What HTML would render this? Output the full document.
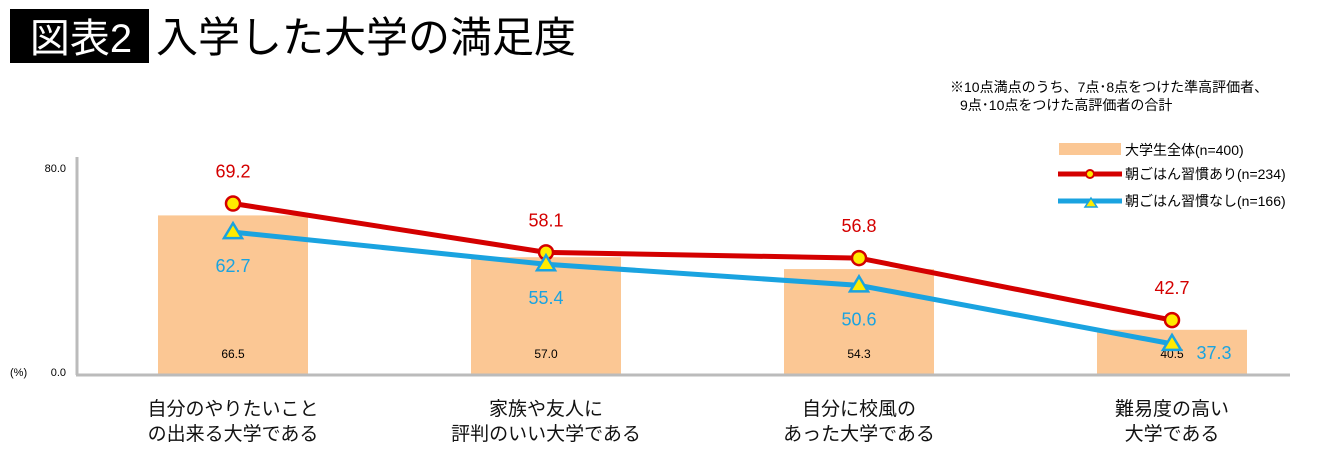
<!DOCTYPE html>
<html><head><meta charset="utf-8">
<style>
body{margin:0;width:1340px;height:450px;background:#fff;overflow:hidden;font-family:"Liberation Sans","Noto Sans CJK JP",sans-serif;}
svg text{font-family:"Liberation Sans","Noto Sans CJK JP",sans-serif;}
</style></head>
<body>
<svg id="chart" width="1340" height="450">
<rect x="10" y="9" width="139" height="54" fill="#000"/>
<text x="81" y="52" font-size="40" fill="#fff" text-anchor="middle">図表2</text>
<text x="156" y="52" font-size="42" fill="#000">入学した大学の満足度</text>
<text x="950" y="92" font-size="14" fill="#000">※10点満点のうち、7点･8点をつけた準高評価者、</text>
<text x="960" y="110" font-size="14" fill="#000">9点･10点をつけた高評価者の合計</text>
<g>
<rect x="1059" y="143" width="62" height="12" fill="#fbc794"/>
<text x="1125" y="155" font-size="14">大学生全体(n=400)</text>
<line x1="1058" y1="174" x2="1122" y2="174" stroke="#d40000" stroke-width="5"/>
<circle cx="1090" cy="174" r="4" fill="#ffeb00" stroke="#d40000" stroke-width="2"/>
<text x="1125" y="179" font-size="14">朝ごはん習慣あり(n=234)</text>
<line x1="1058" y1="201" x2="1122" y2="201" stroke="#1aa3e0" stroke-width="5"/>
<polygon points="1091,198 1097,207 1085,207" fill="#ffeb00" stroke="#1aa3e0" stroke-width="1.5"/>
<text x="1125" y="206" font-size="14">朝ごはん習慣なし(n=166)</text>
</g>
<g id="plot"></g>
<line x1="77" y1="157" x2="77" y2="375" stroke="#bbb" stroke-width="3"/>
<line x1="76" y1="375" x2="1290" y2="375" stroke="#bbb" stroke-width="3"/>
<text x="66" y="172" font-size="11" text-anchor="end">80.0</text>
<text x="66" y="376" font-size="11" text-anchor="end">0.0</text>
<text x="10" y="376" font-size="11">(%)</text>
</svg>
<script>
const categories=[["自分のやりたいこと","の出来る大学である"],["家族や友人に","評判のいい大学である"],["自分に校風の","あった大学である"],["難易度の高い","大学である"]];
const allStudents=[66.5,57.0,54.3,40.5];
const breakfastYes=[69.2,58.1,56.8,42.7];
const breakfastNo=[62.7,55.4,50.6,37.3];
const NS="http://www.w3.org/2000/svg";
const g=document.getElementById('plot');
function x(i){return 233+i*313;}
function y(v){return 508-v*4.4;}
function mk(tag,attrs,parent){const e=document.createElementNS(NS,tag);for(const k in attrs)e.setAttribute(k,attrs[k]);(parent||g).appendChild(e);return e;}
allStudents.forEach((v,i)=>{
 const r=mk('rect',{x:x(i)-75,y:y(v),width:150,height:375-y(v),fill:'#fbc794'});
 
 
 const t=mk('text',{x:x(i),y:358,'font-size':12,'text-anchor':'middle',fill:'#000'});
 t.textContent=v.toFixed(1);
 
 
 const c=mk('text',{x:x(i),y:415,'font-size':19,'text-anchor':'middle',fill:'#111'});
 
 
 categories[i].forEach((s,j)=>{const ts=mk('tspan',{x:x(i),dy:j?25:0},c);ts.textContent=s;});
});
function line(vals,color,name){
 const p=mk('polyline',{points:vals.map((v,i)=>x(i)+','+y(v)).join(' '),fill:'none',stroke:color,'stroke-width':5});
 
 
}
line(breakfastNo,'#1aa3e0','line-breakfast-no');
line(breakfastYes,'#d40000','line-breakfast-yes');
breakfastYes.forEach((v,i)=>{
 const c=mk('circle',{cx:x(i),cy:y(v),r:7,fill:'#ffeb00',stroke:'#d40000','stroke-width':2.5});
 
 
 const t=mk('text',{x:x(i),y:y(v)-26,'font-size':18,'text-anchor':'middle',fill:'#d40000'});
 t.textContent=v.toFixed(1);
 
 
});
breakfastNo.forEach((v,i)=>{
 const yy=y(v);
 const p=mk('polygon',{points:`${x(i)},${yy-9} ${x(i)+9},${yy+6} ${x(i)-9},${yy+6}`,fill:'#ffeb00',stroke:'#1aa3e0','stroke-width':2.5});
 
 
 const last=i===breakfastNo.length-1;
 const t=mk('text',{x:last?x(i)+42:x(i),y:last?yy+15:yy+40,'font-size':18,'text-anchor':'middle',fill:'#1aa3e0'});
 t.textContent=v.toFixed(1);
 
 
});
</script>
</body></html>
